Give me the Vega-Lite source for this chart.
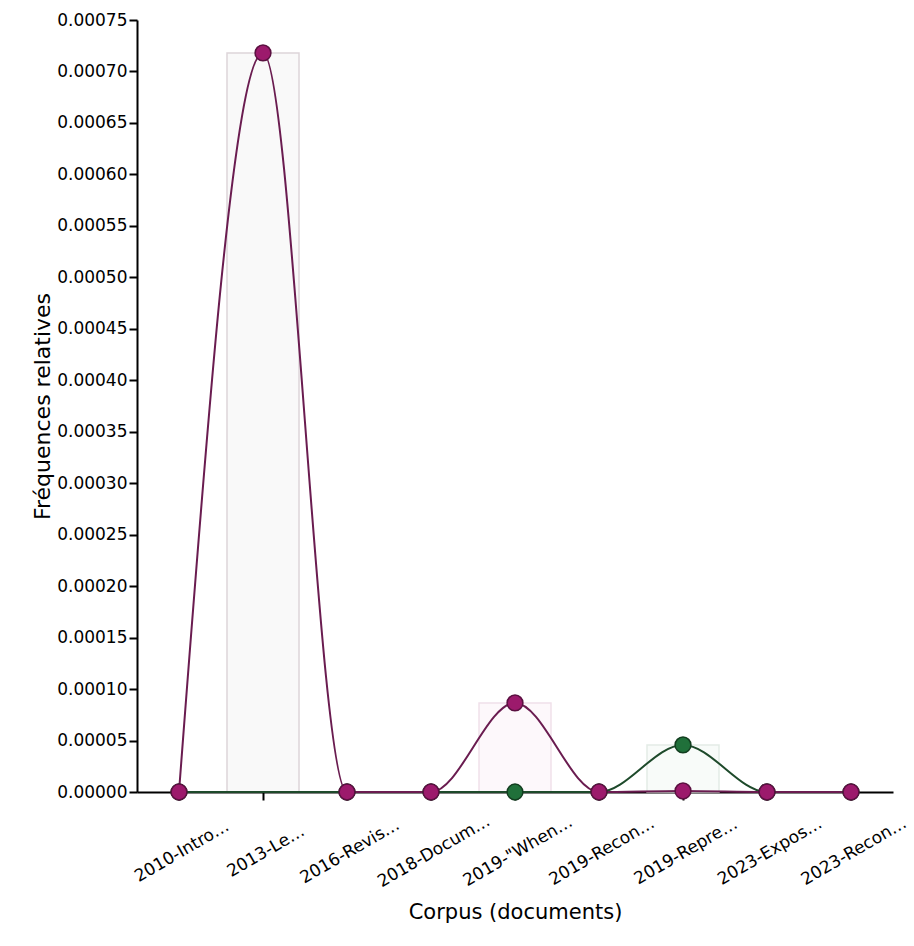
{
  "$schema": "https://vega.github.io/schema/vega-lite/v6.json",
  "width": 756,
  "height": 772,
  "autosize": {"type": "none"},
  "padding": {"left": 137, "top": 20, "right": 21, "bottom": 154},
  "background": "white",
  "config": {
    "view": {"stroke": null},
    "axis": {
      "grid": false,
      "domainColor": "black",
      "domainWidth": 2,
      "tickColor": "black",
      "tickWidth": 2,
      "tickSize": 8,
      "labelColor": "black",
      "titleColor": "black",
      "labelFont": "DejaVu Sans",
      "titleFont": "DejaVu Sans",
      "labelFontSize": 17,
      "titleFontWeight": "normal"
    }
  },
  "datasets": {
    "series": [
      {"doc": "2010-Intro…", "serie": "série 2", "freq": 0},
      {"doc": "2016-Revis…", "serie": "série 2", "freq": 0},
      {"doc": "2018-Docum…", "serie": "série 2", "freq": 0},
      {"doc": "2019-\"When…", "serie": "série 2", "freq": 0},
      {"doc": "2019-Recon…", "serie": "série 2", "freq": 0},
      {"doc": "2019-Repre…", "serie": "série 2", "freq": 0.0000457},
      {"doc": "2023-Expos…", "serie": "série 2", "freq": 0},
      {"doc": "2023-Recon…", "serie": "série 2", "freq": 0},
      {"doc": "2010-Intro…", "serie": "série 1", "freq": 0},
      {"doc": "2013-Le…", "serie": "série 1", "freq": 0.000718},
      {"doc": "2016-Revis…", "serie": "série 1", "freq": 0},
      {"doc": "2018-Docum…", "serie": "série 1", "freq": 0},
      {"doc": "2019-\"When…", "serie": "série 1", "freq": 0.0000865},
      {"doc": "2019-Recon…", "serie": "série 1", "freq": 0},
      {"doc": "2019-Repre…", "serie": "série 1", "freq": 0.000001},
      {"doc": "2023-Expos…", "serie": "série 1", "freq": 0},
      {"doc": "2023-Recon…", "serie": "série 1", "freq": 0}
    ],
    "barres": [
      {"doc": "2013-Le…", "teinte": "gris", "freq": 0.000718},
      {"doc": "2019-\"When…", "teinte": "rose", "freq": 0.0000865},
      {"doc": "2019-Repre…", "teinte": "vert", "freq": 0.0000457}
    ]
  },
  "resolve": {"scale": {"fill": "independent", "stroke": "independent"}},
  "encoding": {
    "x": {
      "field": "doc",
      "type": "nominal",
      "sort": ["2010-Intro…", "2013-Le…", "2016-Revis…", "2018-Docum…", "2019-\"When…", "2019-Recon…", "2019-Repre…", "2023-Expos…", "2023-Recon…"],
      "scale": {"paddingInner": 0, "paddingOuter": 0},
      "axis": {
        "title": "Corpus (documents)",
        "titleFontSize": 21,
        "titleBaseline": "middle",
        "titleX": 378,
        "titleY": 120,
        "labelAngle": -30,
        "labelAlign": "center",
        "labelBaseline": "middle",
        "labelPadding": 51,
        "labelOffset": 3
      }
    },
    "y": {
      "field": "freq",
      "type": "quantitative",
      "scale": {"domain": [0, 0.00075], "nice": false, "zero": true},
      "axis": {
        "title": "Fréquences relatives",
        "titleFontSize": 22,
        "titleAngle": -90,
        "titleBaseline": "middle",
        "titleAlign": "center",
        "titleX": -95,
        "titleY": 386,
        "format": ".5f",
        "labelPadding": 2,
        "values": [0, 0.00005, 0.0001, 0.00015, 0.0002, 0.00025, 0.0003, 0.00035, 0.0004, 0.00045, 0.0005, 0.00055, 0.0006, 0.00065, 0.0007, 0.00075]
      }
    }
  },
  "layer": [
    {
      "data": {"name": "barres"},
      "mark": {"type": "bar", "width": {"band": 0.857}, "strokeWidth": 1.5},
      "encoding": {
        "fill": {"field": "teinte", "type": "nominal", "legend": null, "scale": {"domain": ["gris", "rose", "vert"], "range": ["#f9f9f9", "#fdf8fb", "#f8fbf9"]}},
        "stroke": {"field": "teinte", "type": "nominal", "legend": null, "scale": {"domain": ["gris", "rose", "vert"], "range": ["#ddd5d9", "#f0e0ea", "#e3ece6"]}}
      }
    },
    {
      "data": {"name": "series"},
      "mark": {"type": "line", "interpolate": "monotone", "strokeWidth": 2},
      "encoding": {
        "stroke": {"field": "serie", "type": "nominal", "legend": null, "scale": {"domain": ["série 2", "série 1"], "range": ["#1e4a2b", "#6a1c50"]}}
      }
    },
    {
      "data": {"name": "series"},
      "mark": {"type": "point", "filled": true, "size": 250, "strokeWidth": 1.5, "opacity": 1},
      "encoding": {
        "fill": {"field": "serie", "type": "nominal", "legend": null, "scale": {"domain": ["série 2", "série 1"], "range": ["#20703a", "#9c1a6c"]}},
        "stroke": {"field": "serie", "type": "nominal", "legend": null, "scale": {"domain": ["série 2", "série 1"], "range": ["#123d1f", "#5a1040"]}}
      }
    }
  ]
}
